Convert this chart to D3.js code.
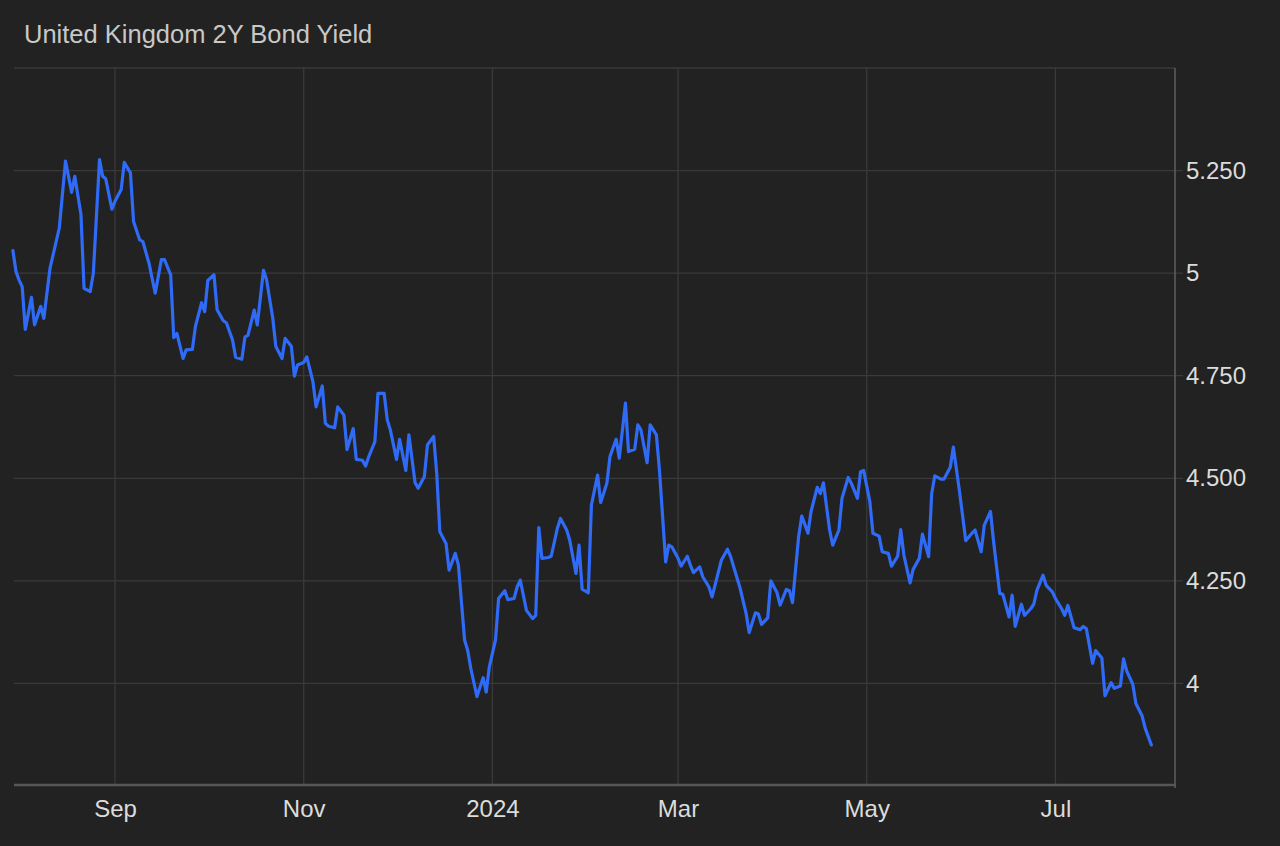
<!DOCTYPE html>
<html>
<head>
<meta charset="utf-8">
<script src="https://cdn.jsdelivr.net/npm/d3@7"></script>
<style>
  html, body { margin: 0; padding: 0; background: #222222; }
  svg { display: block; }
</style>
</head>
<body>
<div id="chart"></div>
<script>
// UK 2Y gilt yield
var dates = [
  "2023-07-30","2023-07-31","2023-08-01","2023-08-02","2023-08-03","2023-08-05","2023-08-06","2023-08-08","2023-08-09","2023-08-11",
  "2023-08-14","2023-08-16","2023-08-18","2023-08-19","2023-08-21","2023-08-22","2023-08-24","2023-08-25","2023-08-27","2023-08-28",
  "2023-08-29","2023-08-31","2023-09-01","2023-09-03","2023-09-04","2023-09-06","2023-09-07","2023-09-09","2023-09-10","2023-09-12",
  "2023-09-14","2023-09-16","2023-09-17","2023-09-19","2023-09-20","2023-09-21","2023-09-23","2023-09-24","2023-09-26","2023-09-27",
  "2023-09-29","2023-09-30","2023-10-01","2023-10-03","2023-10-04","2023-10-06","2023-10-07","2023-10-09","2023-10-10","2023-10-12",
  "2023-10-13","2023-10-14","2023-10-16","2023-10-17","2023-10-19","2023-10-20","2023-10-22","2023-10-23","2023-10-25","2023-10-26",
  "2023-10-28","2023-10-29","2023-10-30","2023-11-01","2023-11-02","2023-11-04","2023-11-05","2023-11-07","2023-11-08","2023-11-09",
  "2023-11-11","2023-11-12","2023-11-14","2023-11-15","2023-11-17","2023-11-18","2023-11-20","2023-11-21","2023-11-22","2023-11-24",
  "2023-11-25","2023-11-27","2023-11-28","2023-11-29","2023-12-01","2023-12-02","2023-12-04","2023-12-05","2023-12-07","2023-12-08",
  "2023-12-10","2023-12-11","2023-12-13","2023-12-14","2023-12-15","2023-12-17","2023-12-18","2023-12-20","2023-12-21","2023-12-23",
  "2023-12-24","2023-12-25","2023-12-27","2023-12-29","2023-12-30","2023-12-31","2024-01-02","2024-01-03","2024-01-05","2024-01-06",
  "2024-01-08","2024-01-09","2024-01-10","2024-01-12","2024-01-14","2024-01-15","2024-01-16","2024-01-17","2024-01-19","2024-01-20",
  "2024-01-22","2024-01-23","2024-01-25","2024-01-26","2024-01-28","2024-01-29","2024-01-30","2024-02-01","2024-02-02","2024-02-04",
  "2024-02-05","2024-02-07","2024-02-08","2024-02-10","2024-02-11","2024-02-13","2024-02-14","2024-02-16","2024-02-17","2024-02-18",
  "2024-02-20","2024-02-21","2024-02-23","2024-02-24","2024-02-26","2024-02-27","2024-02-28","2024-03-01","2024-03-02","2024-03-04",
  "2024-03-05","2024-03-06","2024-03-08","2024-03-09","2024-03-11","2024-03-12","2024-03-14","2024-03-15","2024-03-17","2024-03-18",
  "2024-03-20","2024-03-21","2024-03-23","2024-03-24","2024-03-26","2024-03-27","2024-03-28","2024-03-30","2024-03-31","2024-04-02",
  "2024-04-03","2024-04-05","2024-04-06","2024-04-07","2024-04-09","2024-04-10","2024-04-12","2024-04-13","2024-04-15","2024-04-16",
  "2024-04-17","2024-04-19","2024-04-20","2024-04-22","2024-04-23","2024-04-25","2024-04-26","2024-04-28","2024-04-29","2024-04-30",
  "2024-05-02","2024-05-03","2024-05-05","2024-05-06","2024-05-08","2024-05-09","2024-05-11","2024-05-12","2024-05-13","2024-05-15",
  "2024-05-16","2024-05-18","2024-05-19","2024-05-21","2024-05-22","2024-05-23","2024-05-25","2024-05-26","2024-05-28","2024-05-29",
  "2024-05-31","2024-06-01","2024-06-02","2024-06-04","2024-06-05","2024-06-07","2024-06-08","2024-06-10","2024-06-11","2024-06-13",
  "2024-06-14","2024-06-16","2024-06-17","2024-06-18","2024-06-20","2024-06-21","2024-06-23","2024-06-24","2024-06-25","2024-06-27",
  "2024-06-28","2024-06-30","2024-07-01","2024-07-03","2024-07-04","2024-07-05","2024-07-07","2024-07-09","2024-07-10","2024-07-11",
  "2024-07-13","2024-07-14","2024-07-16","2024-07-17","2024-07-19","2024-07-20","2024-07-22","2024-07-23","2024-07-24","2024-07-26",
  "2024-07-27","2024-07-29","2024-07-30","2024-08-01"
];
var yields = [
  5.055,5.004,4.983,4.967,4.863,4.941,4.874,4.919,4.890,5.012,
  5.110,5.273,5.197,5.236,5.143,4.963,4.955,5.000,5.277,5.236,
  5.230,5.156,5.175,5.204,5.270,5.244,5.126,5.081,5.077,5.024,
  4.951,5.033,5.033,4.996,4.843,4.853,4.792,4.813,4.814,4.870,
  4.928,4.906,4.982,4.996,4.911,4.884,4.879,4.837,4.795,4.790,
  4.844,4.849,4.910,4.874,5.007,4.984,4.890,4.821,4.792,4.841,
  4.822,4.749,4.776,4.782,4.796,4.735,4.674,4.725,4.634,4.627,
  4.623,4.674,4.654,4.570,4.621,4.546,4.544,4.530,4.552,4.589,
  4.707,4.707,4.643,4.618,4.546,4.595,4.519,4.606,4.489,4.476,
  4.504,4.581,4.602,4.512,4.370,4.341,4.276,4.317,4.289,4.106,
  4.081,4.037,3.968,4.014,3.979,4.040,4.106,4.207,4.226,4.204,
  4.207,4.235,4.252,4.178,4.158,4.166,4.380,4.305,4.307,4.310,
  4.378,4.402,4.374,4.349,4.268,4.337,4.230,4.221,4.435,4.508,
  4.441,4.488,4.553,4.595,4.549,4.683,4.565,4.571,4.630,4.618,
  4.538,4.630,4.606,4.520,4.296,4.337,4.333,4.305,4.286,4.310,
  4.288,4.270,4.284,4.260,4.235,4.211,4.270,4.300,4.327,4.309,
  4.259,4.234,4.171,4.124,4.172,4.169,4.144,4.160,4.250,4.221,
  4.191,4.229,4.226,4.197,4.359,4.408,4.366,4.419,4.478,4.463,
  4.489,4.374,4.337,4.374,4.451,4.502,4.488,4.451,4.516,4.519,
  4.443,4.366,4.359,4.321,4.317,4.286,4.310,4.375,4.313,4.245,
  4.278,4.305,4.364,4.309,4.463,4.506,4.498,4.498,4.527,4.576,
  4.467,4.408,4.348,4.366,4.374,4.321,4.386,4.419,4.346,4.219,
  4.217,4.162,4.215,4.139,4.193,4.166,4.182,4.193,4.227,4.264,
  4.239,4.223,4.207,4.182,4.166,4.190,4.136,4.131,4.139,4.133,
  4.049,4.080,4.062,3.970,4.002,3.988,3.994,4.060,4.031,3.998,
  3.951,3.921,3.891,3.850
];

var xTickDates = ["2023-09-01","2023-11-01","2024-01-01","2024-03-01","2024-05-01","2024-07-01"];
var xTickLabels = ["Sep","Nov","2024","Mar","May","Jul"];
var yTicks = [4, 4.25, 4.5, 4.75, 5, 5.25];
var yTickLabels = ["4","4.250","4.500","4.750","5","5.250"];
var yGrid = [4, 4.25, 4.5, 4.75, 5, 5.25, 5.5];

var width = 1280, height = 846;
var plotLeft = 14, plotRight = 1175, plotTop = 68, plotBottom = 786;

var parse = d3.utcParse("%Y-%m-%d");
var data = dates.map(function (d, i) {
  return { date: parse(d), value: yields[i] };
});

var svg = d3.select("#chart").append("svg")
  .attr("width", width)
  .attr("height", height)
  .style("background", "#222222");

var x = d3.scaleUtc()
  .domain([parse("2023-07-30"), parse("2024-08-09")])
  .range([12.9, 1176.1]);

var y = d3.scaleLinear()
  .domain([3.75, 5.5])
  .range([plotBottom, plotTop]);

// title
svg.append("text")
  .attr("x", 24)
  .attr("y", 43)
  .attr("fill", "#c8c8c8")
  .attr("font-family", "Liberation Sans, Arial, sans-serif")
  .attr("font-size", "25.5px")
  .text("United Kingdom 2Y Bond Yield");

// horizontal grid
svg.append("g")
  .selectAll("line")
  .data(yGrid)
  .enter()
  .append("line")
  .attr("x1", plotLeft)
  .attr("x2", function (d) { return d == 5.5 ? plotRight : plotRight + 8; })
  .attr("y1", function (d) { return y(d); })
  .attr("y2", function (d) { return y(d); })
  .attr("stroke", "#3a3a3a")
  .attr("stroke-width", 1.3);

// vertical grid
svg.append("g")
  .selectAll("line")
  .data(xTickDates)
  .enter()
  .append("line")
  .attr("x1", function (d) { return x(parse(d)); })
  .attr("x2", function (d) { return x(parse(d)); })
  .attr("y1", plotTop)
  .attr("y2", plotBottom)
  .attr("stroke", "#3a3a3a")
  .attr("stroke-width", 1.3);

// right axis
var yAxis = d3.axisRight(y)
  .tickValues(yTicks)
  .tickSize(0)
  .tickPadding(11)
  .tickFormat(function (d, i) { return yTickLabels[i]; });

var gy = svg.append("g")
  .attr("transform", "translate(" + plotRight + ",0)")
  .call(yAxis);
gy.select(".domain").remove();
gy.selectAll("text")
  .attr("fill", "#dcdcdc")
  .attr("font-family", "Liberation Sans, Arial, sans-serif")
  .attr("font-size", "24px");

svg.append("line")
  .attr("x1", plotRight).attr("x2", plotRight)
  .attr("y1", plotTop).attr("y2", plotBottom + 2)
  .attr("stroke", "#5f5f5f")
  .attr("stroke-width", 1.5);

// bottom axis
var xAxis = d3.axisBottom(x)
  .tickValues(xTickDates.map(parse))
  .tickSize(0)
  .tickPadding(14)
  .tickFormat(function (d, i) { return xTickLabels[i]; });

var gx = svg.append("g")
  .attr("transform", "translate(0," + plotBottom + ")")
  .call(xAxis);
gx.select(".domain").remove();
gx.selectAll("text")
  .attr("fill", "#dcdcdc")
  .attr("font-family", "Liberation Sans, Arial, sans-serif")
  .attr("font-size", "24px");

svg.append("line")
  .attr("x1", plotLeft).attr("x2", plotRight + 1)
  .attr("y1", plotBottom - 1).attr("y2", plotBottom - 1)
  .attr("stroke", "#575757")
  .attr("stroke-width", 2.5);

// yield line
var line = d3.line()
  .x(function (d) { return x(d.date); })
  .y(function (d) { return y(d.value); });

svg.append("path")
  .datum(data)
  .attr("fill", "none")
  .attr("stroke", "#2f6bf7")
  .attr("stroke-width", 3.2)
  .attr("stroke-linejoin", "round")
  .attr("stroke-linecap", "round")
  .attr("d", line);
</script>
</body>
</html>
